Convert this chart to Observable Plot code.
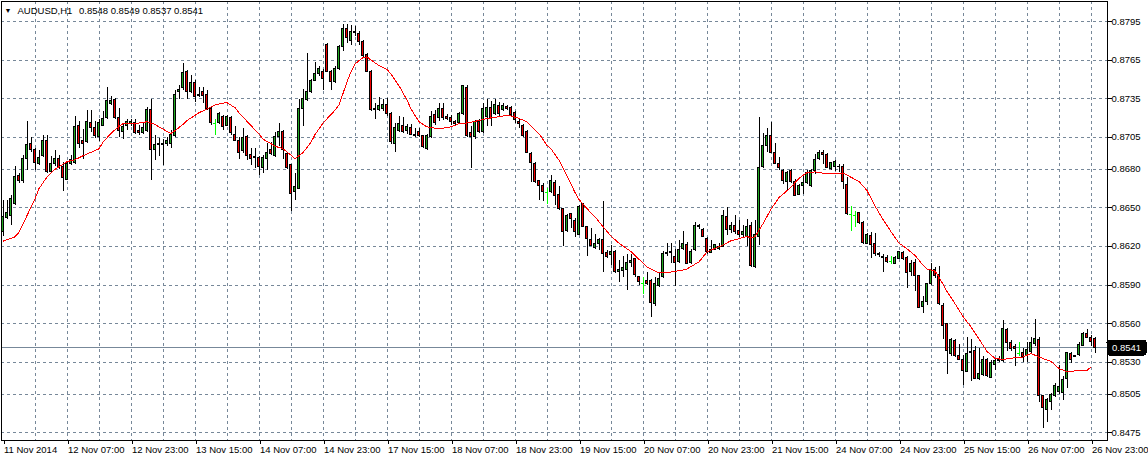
<!DOCTYPE html>
<html><head><meta charset="utf-8">
<script src="https://cdn.jsdelivr.net/npm/d3@7"></script>
<script src="https://cdn.jsdelivr.net/npm/@observablehq/plot@0.6"></script>
<style>html,body{margin:0;padding:0;background:#fff;} #chart svg{display:block}</style>
</head><body><div id="chart"></div>
<script>
const symbolName = "AUDUSD,H1";

const open = [
.8631,.8642,.8644,.8653,.8675,.8671,.8688,.8700,.8695,.8684,
.8690,.8702,.8678,.8684,.8688,.8682,.8672,.8684,.8685,.8714,
.8702,.8701,.8716,.8712,.8705,.8714,.8720,.8731,.8734,.8720,
.8709,.8714,.8715,.8716,.87095,.8708,.8710,.8726,.8695,.86995,
.86995,.8700,.8700,.8706,.8740,.8743,.8756,.8740,.8747,.8738,
.8740,.8738,.8727,.8716,.8716,.8721,.8714,.8720,.8707,.8702,
.8694,.8705,.8691,.86895,.8689,.8681,.8688,.8695,.8690,.8705,
.8709,.8692,.8683,.8662,.8665,.8727,.8734,.8740,.8749,.8754,
.8756,.8777,.8756,.8748,.8758,.8775,.8789,.8780,.8787,.8785,
.8779,.8769,.8756,.8727,.8726,.8727,.8730,.8723,.8700,.8710,
.8714,.8710,.8712,.8707,.8709,.8706,.8696,.8705,.8722,.8720,
.8727,.87205,.8720,.8717,.8716,.8723,.87435,.8708,.8705,.8717,
.8709,.8721,.8728,.8723,.8729,.8726,.87285,.8728,.8724,.8717,
.8714,.8709,.8692,.8684,.8671,.8667,.8662,.8662,.8669,.8660,
.8649,.8632,.86455,.8640,.8629,.8653,.8635,.8625,.8619,.8622,
.8625,.8615,.8613,.8616,.8600,.8601,.86015,.8607,.86105,.8596,
.8591,.8593,.8593,.8575,.8589,.8596,.86145,.8615,.8612,.8608,
.8618,.8621,.8607,.8617,.8636,.8633,.8626,.8615,.8617,.8618,
.86196,.8643,.86325,.8636,.8632,.8629,.8627,.86357,.8604,.8627,
.8682,.8698,.8706,.86925,.8684,.8679,.8670,.86787,.8670,.8660,
.8667,.8669,.8667,.8679,.8688,.8693,.8691,.8680,.8682,.8682,
.86817,.8668,.8645,.8644,.8646,.8638,.8622,.86278,.8622,.8614,
.8612,.8611,.8608,.86066,.86105,.8615,.8611,.8600,.8607,.85967,
.8573,.8577,.8591,.86014,.85975,.8574,.85595,.85367,.85465,.8535,
.85315,.85225,.8537,.85387,.8517,.8520,.85315,.8518,.85276,.85305,
.8531,.85553,.85445,.85415,.85367,.8537,.85346,.8538,.8544,.85475,
.85035,.8493,.8499,.85035,.85069,.8506,.85165,.85367,.85345,.85354,
.85424,.85522,.85485,.8548];

const high = [
.8656,.8656,.8660,.8682,.8677,.8691,.8717,.8705,.8696,.8695,
.8706,.8706,.8690,.8695,.8691,.8685,.8686,.8691,.8721,.8717,
.8711,.8726,.8726,.8717,.8719,.8725,.8744,.8737,.8735,.8727,
.8716,.8719,.8719,.8719,.8714,.8716,.8728,.8734,.8706,.8704,
.8703,.8705,.8710,.8741,.8745,.8762,.8757,.8753,.8749,.8744,
.8744,.8741,.8728,.8719,.8724,.8722,.8722,.8721,.8713,.8705,
.8712,.8706,.8696,.8696,.8690,.8691,.8700,.8701,.8709,.8716,
.8710,.8693,.8684,.8677,.8734,.8742,.8770,.8750,.8763,.8760,
.8758,.8778,.8757,.8760,.8776,.8793,.8793,.8792,.8791,.8787,
.8780,.8770,.8757,.8731,.8736,.8734,.8735,.8724,.8716,.8721,
.8720,.8715,.8715,.8712,.8712,.87065,.8707,.8725,.8726,.87315,
.8731,.8723,.8722,.8718,.8724,.8745,.8745,.8713,.8718,.8719,
.8731,.8734,.8733,.8734,.8732,.8731,.8730,.8729,.8725,.8719,
.8715,.8710,.8693,.8685,.86715,.8669,.8665,.8675,.8671,.8667,
.8649,.8645,.8646,.8642,.8652,.86535,.86355,.8634,.8629,.8626,
.8655,.8617,.8621,.86165,.8609,.8612,.8614,.8614,.8611,.8597,
.8596,.8600,.8594,.8596,.8600,.8616,.8622,.8622,.8618,.8625,
.8632,.86227,.8618,.8639,.8637,.8634,.8627,.8625,.86217,.8622,
.8648,.8650,.8639,.8644,.8640,.8636,.8641,.8639,.8640,.87206,
.8708,.87115,.87167,.8700,.8689,.8680,.8678,.86797,.8672,.86683,
.8675,.8679,.86795,.86916,.86947,.86947,.8692,.86856,.8687,.8684,
.86838,.8674,.8651,.8647,.86467,.86397,.86299,.8631,.8630,.86156,
.8614,.8613,.86118,.8612,.86164,.86164,.8612,.86092,.86097,.85975,
.85807,.85915,.86066,.8604,.86045,.85755,.8560,.85483,.85475,.8544,
.85354,.8549,.85475,.85418,.85405,.8534,.85328,.8531,.85328,.8534,
.8562,.8556,.8547,.85439,.8545,.85405,.8545,.8549,.8563,.8549,
.85043,.85017,.85056,.85133,.85276,.85185,.85377,.85377,.85355,.85449,
.85527,.85553,.8551,.8549];

const low = [
.8628,.8641,.8636,.8652,.8669,.8669,.8679,.8693,.8679,.8683,
.8689,.8677,.8677,.8682,.8680,.8663,.8671,.8683,.8684,.8696,
.8688,.8700,.8709,.8704,.8702,.8713,.8719,.8730,.8719,.8705,
.8703,.8710,.8713,.8707,.8706,.8707,.8709,.8671,.8687,.8690,
.8683,.8698,.8696,.8705,.8734,.8741,.8734,.8739,.8732,.8736,
.8731,.8726,.8714,.8706,.8715,.8710,.8713,.8706,.8702,.8688,
.8692,.8687,.8683,.8681,.8675,.8677,.8679,.8691,.8689,.8698,
.8688,.8680,.8647,.8656,.8664,.8713,.8733,.8739,.8748,.8752,
.8741,.8755,.8741,.8747,.8757,.8772,.8778,.8776,.8783,.8776,
.8767,.8755,.8725,.8719,.8725,.8725,.8721,.8699,.8693,.8709,
.8708,.8707,.8706,.8705,.8705,.8696,.8695,.8704,.8714,.8717,
.8718,.8718,.8714,.8713,.8715,.8722,.8705,.8681,.8703,.8708,
.8708,.8713,.8713,.8722,.8721,.8725,.8726,.8721,.8716,.8712,
.8705,.8692,.8670,.8669,.8656,.8655,.8653,.8661,.8652,.8648,
.8620,.8631,.8634,.8627,.8629,.8635,.8612,.8620,.8618,.8617,
.8600,.8611,.8605,.8599,.8592,.8596,.8586,.8604,.8596,.8590,
.8583,.8590,.8565,.85735,.8588,.8595,.8612,.8607,.8589,.86066,
.8617,.8606,.8606,.8616,.8633,.8627,.8614,.86145,.86165,.8617,
.8619,.86287,.8630,.8629,.8627,.8626,.86196,.8604,.8603,.8621,
.86805,.8693,.8692,.86837,.8679,.8668,.8663,.8669,.86587,.86595,
.86605,.8668,.86657,.8676,.8687,.8684,.86805,.8679,.86786,.86778,
.8664,.8644,.8632,.8635,.8637,.86216,.86216,.86105,.8612,.86113,
.8600,.86066,.8606,.8606,.86097,.8609,.8587,.85967,.8585,.85716,
.8568,.8574,.85898,.85949,.85742,.85475,.85206,.85346,.85335,.8531,
.8512,.85216,.85146,.85165,.85159,.85185,.8518,.85172,.85232,.85297,
.8530,.8538,.8538,.85268,.8534,.8530,.85294,.85367,.85418,.84983,
.84784,.84828,.84926,.85024,.8505,.85004,.85095,.85289,.85333,.8534,
.85418,.85483,.85424,.8537];

const close = [
.8643,.8646,.8657,.8674,.8671,.8688,.8699,.8695,.8685,.8689,
.8702,.8678,.8684,.8688,.8681,.8673,.8684,.8687,.8713,.8700,
.8700,.8717,.8712,.8706,.8716,.8719,.8733,.8733,.8720,.8710,
.8713,.8717,.8717,.8708,.8708,.8712,.8726,.8695,.8699,.8699,
.8699,.8702,.8707,.8738,.8742,.8755,.8740,.8747,.8736,.8737,
.8737,.8727,.8716,.8716,.8723,.8713,.8721,.8708,.8702,.8693,
.8704,.8690,.8688,.8689,.8682,.8689,.8693,.8692,.8705,.8709,
.8695,.8681,.8661,.8666,.8727,.8735,.8740,.8749,.8754,.8758,
.8750,.8756,.8748,.8758,.8775,.8789,.8782,.8787,.8786,.8779,
.8768,.8756,.8726,.8726,.8729,.8730,.8723,.8701,.8712,.8715,
.8709,.8713,.8707,.8706,.8706,.8697,.8706,.8721,.8716,.8727,
.8720,.87195,.8717,.8715,.8723,.87445,.8706,.8705,.8717,.8709,
.8727,.8728,.8719,.8730,.8723,.87295,.8727,.8722,.8718,.8715,
.8706,.8693,.8685,.8670,.8667,.8662,.8662,.8671,.8659,.8649,
.8631,.8644,.86415,.8631,.8651,.8635,.8626,.8620,.8622,.8625,
.8614,.8612,.8616,.8600,.8602,.86035,.8607,.8609,.85975,.8592,
.8591,.8591,.8576,.85905,.8595,.8614,.8615,.86155,.8607,.86175,
.86216,.86066,.8616,.8636,.8635,.8627,.8616,.86175,.8621,.86195,
.8644,.86325,.8636,.8631,.8629,.8631,.8635,.8605,.86287,.8681,
.8698,.87056,.8693,.8684,.8681,.8671,.8677,.8670,.8659,.8667,
.8669,.8677,.8679,.86875,.86926,.8691,.8681,.8685,.86856,.86815,
.8670,.86454,.8645,.8644,.8638,.86226,.86286,.86214,.86138,.8613,
.8611,.8608,.8608,.8611,.86157,.86105,.85993,.86066,.85967,.85724,
.85768,.8591,.8602,.85967,.85755,.85582,.85387,.85475,.85346,.85315,
.8523,.85367,.85375,.85172,.8521,.8532,.8519,.85297,.85307,.8532,
.8556,.8545,.85405,.8540,.85367,.8534,.85398,.8545,.85483,.85035,
.84947,.85004,.85043,.85113,.85108,.8516,.85372,.8532,.8534,.85437,
.85517,.8549,.85457,.8541];

// moving average (red line), read at sampled bars
const maBar = [
0,3,4,6,8,9,11,13,14,16,
18,19,21,23,24,25,27,29,30,31,
33,34,36,38,39,41,42,43,45,46,
49,51,53,55,56,58,59,62,64,65,
67,68,70,72,73,75,77,78,80,83,
84,85,86,87,88,90,91,92,94,96,
97,99,101,102,104,106,108,110,112,114,
116,118,120,122,125,127,129,131,134,136,
137,139,141,143,144,146,148,150,152,154,
157,159,161,164,166,168,170,171,174,176,
178,180,182,184,186,187,188,190,192,194,
197,199,201,203,206,210,211,214,216,218,
220,222,224,226,228,230,231,233,234,236,
238,240,242,244,246,248,250,253,255,257,
258,260,262,264,266,268,271,272];
const maValue = [
.86241,.86275,.8631,.8644,.8657,.8665,.8674,.8680,.8682,.8686,
.86875,.8689,.8692,.86945,.8696,.8701,.8708,.87135,.87155,.8716,
.87155,.8716,.8717,.8715,.8713,.87095,.8708,.8710,.8715,.8718,
.8724,.8727,.8730,.87315,.87318,.8728,.8724,.8714,.87075,.87035,
.8700,.8698,.8696,.8691,.86883,.8693,.8701,.8707,.8716,.8726,
.8730,.8739,.8748,.8756,.8762,.8767,.87675,.8765,.87608,.87577,
.8754,.8745,.8734,.8727,.8717,.8713,.8712,.8712,.8713,.87155,
.8716,.87173,.87188,.8720,.87215,.87215,.87196,.8717,.87077,.86986,
.8696,.8687,.8675,.8662,.86565,.86494,.8643,.86355,.8628,.86225,
.8616,.8610,.8604,.85994,.85994,.86007,.86016,.86025,.8608,.86157,
.86185,.8621,.86245,.8626,.86279,.86265,.86275,.86377,.8649,.8658,
.8666,.8673,.86775,.8678,.86766,.8677,.86755,.86705,.86635,.86515,
.8641,.86315,.86226,.86182,.8613,.86055,.86025,.86009,.85962,.8585,
.85755,.85655,.85574,.8548,.85383,.8533,.8532,.85335,.8534,.85367,
.85354,.85328,.85305,.8525,.85225,.85232,.85235,.85263];

const priceTicks = [0.8795,0.8765,0.8735,0.8705,0.8680,0.8650,0.8620,0.8590,0.8560,0.8530,0.8505,0.8475];
const gridBars = [8,16,24,32,40,48,56,64,72,80,88,96,104,112,120,128,136,144,152,160,168,176,184,192,200,208,216,224,232,240,248,256,264,272];
const labelBars = [0,16,32,48,64,80,96,112,128,144,160,176,192,208,224,240,256,272];
const dateLabels = ["11 Nov 2014","12 Nov 07:00","12 Nov 23:00","13 Nov 15:00","14 Nov 07:00","14 Nov 23:00",
  "17 Nov 15:00","18 Nov 07:00","18 Nov 23:00","19 Nov 15:00","20 Nov 07:00","20 Nov 23:00",
  "21 Nov 15:00","24 Nov 07:00","24 Nov 23:00","25 Nov 15:00","26 Nov 07:00","26 Nov 23:00"];

const bars = open.map((o, i) => ({i, o, h: high[i], l: low[i], c: close[i]}));
const ma = maBar.map((b, k) => ({i: b, v: maValue[k]}));
const last = bars[bars.length - 1];

const GRID = "#778899";
const BULL = "#22a822";
const BEAR = "#f00000";
const LIME = "#00ff00";
const f4 = d => d.toFixed(4);

const chart = Plot.plot({
  width: 1148, height: 460,
  marginTop: 1, marginLeft: 1, marginRight: 41, marginBottom: 20,
  x: {type: "linear", domain: [-0.375, 276.125], label: null},
  y: {type: "linear", domain: [0.846903, 0.881056], label: null},
  style: "font-family:'Liberation Sans',Arial,sans-serif;font-size:9.5px;color:#000;background:#fff;shape-rendering:crispEdges;",
  marks: [
    Plot.gridY(priceTicks, {stroke: GRID, strokeOpacity: 1, strokeDasharray: "3,3"}),
    Plot.gridX(gridBars, {stroke: GRID, strokeOpacity: 1, strokeDasharray: "3,3"}),
    Plot.ruleY([last.c], {stroke: GRID, strokeOpacity: 1}),
    Plot.ruleX(bars, {filter: d => d.o !== d.c, x: "i", y1: "l", y2: "h", stroke: "#000"}),
    Plot.ruleX(bars, {filter: d => d.o === d.c, x: "i", y1: "l", y2: "h", stroke: LIME}),
    Plot.ruleY(bars, {filter: d => d.o === d.c, y: "c", x1: d => d.i - 0.375, x2: d => d.i + 0.375, stroke: LIME}),
    Plot.rect(bars, {filter: d => d.c > d.o, x1: d => d.i - 0.25, x2: d => d.i + 0.25, y1: "o", y2: "c", fill: BULL, stroke: "#000"}),
    Plot.rect(bars, {filter: d => d.c < d.o, x1: d => d.i - 0.25, x2: d => d.i + 0.25, y1: "o", y2: "c", fill: BEAR, stroke: "#000"}),
    Plot.line(ma, {x: "i", y: "v", stroke: "#ff0000", strokeWidth: 1}),
    Plot.frame({stroke: "#000"}),
    Plot.axisY(priceTicks, {anchor: "right", tickSize: 4, tickPadding: 0, tickFormat: f4}),
    Plot.axisX(labelBars, {anchor: "bottom", tickSize: 4, tickPadding: 2, textAnchor: "start", dx: 1,
      tickFormat: d => dateLabels[labelBars.indexOf(d)]}),
    Plot.text(["\u25BC"], {frameAnchor: "top-left", text: d => d, dx: 6.5, dy: 9, fontSize: 7, textAnchor: "middle", lineAnchor: "middle"}),
    Plot.text([symbolName], {frameAnchor: "top-left", text: d => d, dx: 16, dy: 9, textAnchor: "start", lineAnchor: "middle"}),
    Plot.text([last], {frameAnchor: "top-left", text: d => `${f4(d.o)} ${f4(d.h)} ${f4(d.l)} ${f4(d.c)}`, dx: 77.5, dy: 9, textAnchor: "start", lineAnchor: "middle"}),
    // current price label: white text on a black box (halo)
    Plot.text([last.c], {y: d => d, frameAnchor: "right", text: f4, dx: 4.5, textAnchor: "start",
      fill: "#fff", stroke: "#000", strokeWidth: 5, strokeLinejoin: "round"})
  ]
});
document.getElementById("chart").append(chart);

// square black box behind the current-price label (same transform as the text)
const priceStr = f4(last.c);
d3.select(chart).selectAll("text").each(function () {
  if (this.textContent === priceStr) {
    const bb = this.getBBox();
    const r = d3.select(this.parentNode).insert("rect", () => this)
      .attr("x", bb.x - 3).attr("y", bb.y + 0.5)
      .attr("width", bb.width + 6).attr("height", bb.height - 0.5)
      .attr("fill", "#000");
    const tr = this.getAttribute("transform");
    if (tr) r.attr("transform", tr);
    const tx = this.getAttribute("x"), ty = this.getAttribute("y");
    if (tx != null && !tr) r.attr("x", bb.x - 3);
  }
});
</script>
</body></html>
